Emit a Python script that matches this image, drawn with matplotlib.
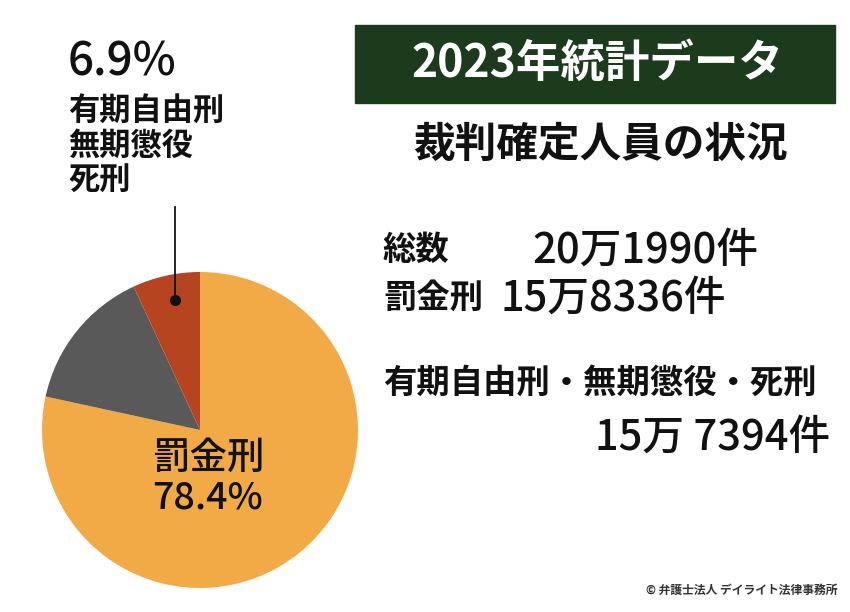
import matplotlib
matplotlib.use("Agg")
import matplotlib.pyplot as plt
from matplotlib.patches import Rectangle

plt.rcParams['font.family'] = ['Noto Sans CJK JP', 'DejaVu Sans']

categories = ['罰金刑', 'その他', '有期自由刑・無期懲役・死刑']
values = [78.4, 14.7, 6.9]
colors = ['#f2aa47', '#595959', '#b5441f']

fig = plt.figure(figsize=(8.5, 6.12), dpi=100)
W, H = 850, 612
def fx(x): return x / W
def fy(y): return 1 - y / H

ax = fig.add_axes([fx(200 - 158), fy(430 + 158), 316 / W, 316 / H])
ax.pie(values, colors=colors, startangle=90, counterclock=False,
       wedgeprops=dict(linewidth=0), radius=1)
ax.set_xlim(-1, 1); ax.set_ylim(-1, 1)
ax.set_aspect('equal')
ax.text(0.05, -0.3, f"{categories[0]}\n{values[0]}%", ha='center', va='center',
        fontsize=27, fontweight='medium', linespacing=1.05, color='#111')

fig.text(fx(68), fy(62), f"{values[2]}%", fontsize=33, fontweight='medium', va='center', color='#111')
fig.text(fx(68), fy(146), "有期自由刑\n無期懲役\n死刑", fontsize=22.5, fontweight='bold',
         va='center', linespacing=1.1, color='#111')
fig.add_artist(plt.Line2D([fx(175), fx(175)], [fy(207), fy(300)], color='#111', lw=1.3))
fig.add_artist(plt.Line2D([fx(175)], [fy(300)], marker='o', markersize=7, color='#111'))

fig.add_artist(Rectangle((fx(355), fy(103)), 480 / W, 78 / H, color='#1c3a1c', transform=fig.transFigure))
fig.text(fx(597), fy(64), "2023年統計データ", color='white', fontsize=32, fontweight='bold', ha='center', va='center')
fig.text(fx(600), fy(145), "裁判確定人員の状況", color='#111', fontsize=30, fontweight='bold', ha='center', va='center')

fig.text(fx(383), fy(250), "総数", fontsize=24, fontweight='bold', va='center', color='#111')
fig.text(fx(532), fy(250), "20万1990件", fontsize=30, fontweight='medium', va='center', color='#111')
fig.text(fx(383), fy(298), "罰金刑", fontsize=24, fontweight='bold', va='center', color='#111')
fig.text(fx(500), fy(298), "15万8336件", fontsize=30, fontweight='medium', va='center', color='#111')
fig.text(fx(383), fy(383), "有期自由刑・無期懲役・死刑", fontsize=24, fontweight='bold', va='center', color='#111')
fig.text(fx(830), fy(437), "15万 7394件", fontsize=30, fontweight='medium', va='center', ha='right', color='#111')
fig.text(fx(838), fy(590), "© 弁護士法人 デイライト法律事務所", fontsize=8.5, fontweight='bold', va='center', ha='right', color='#333')

fig.savefig("out.png", dpi=100)
